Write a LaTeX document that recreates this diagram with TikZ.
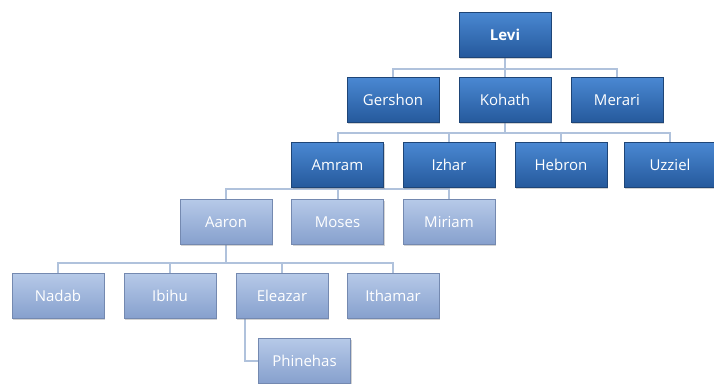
\documentclass[tikz,border=0pt]{standalone}
\usepackage{fontspec}
\setmainfont{Open Sans}
\usetikzlibrary{backgrounds,shadows}
\definecolor{dtop}{HTML}{4A88D2}
\definecolor{dmid}{HTML}{306DBA}
\definecolor{dbot}{HTML}{25599C}
\definecolor{dbrd}{HTML}{1E4577}
\definecolor{ltop}{HTML}{B6C9E8}
\definecolor{lmid}{HTML}{9AB1D9}
\definecolor{lbot}{HTML}{86A0CD}
\definecolor{lbrd}{HTML}{7489B0}
\definecolor{conn}{HTML}{B0C2DC}
\tikzset{
  box/.style={minimum width=92pt, minimum height=45pt, inner sep=0pt, text=white,
    font=\fontsize{15}{17}\selectfont, line width=0.6pt,
    drop shadow={opacity=0.35, shadow xshift=1.2pt, shadow yshift=-1.5pt}},
  dark/.style={box, draw=dbrd, top color=dtop, middle color=dmid, bottom color=dbot},
  light/.style={box, draw=lbrd, top color=ltop, middle color=lmid, bottom color=lbot},
  link/.style={draw=conn, line width=2pt}
}
\begin{document}
\begin{tikzpicture}[x=1pt,y=-1pt]
\useasboundingbox (0,0) rectangle (714,383);
\node[dark, font=\fontsize{15}{17}\selectfont\bfseries] (levi) at (505,34.5) {Levi};
\node[dark] (gershon) at (393,100) {Gershon};
\node[dark] (kohath) at (505,100) {Kohath};
\node[dark] (merari) at (617,100) {Merari};
\node[dark] (amram) at (337.5,165) {Amram};
\node[dark] (izhar) at (449,165) {Izhar};
\node[dark] (hebron) at (561,165) {Hebron};
\node[dark] (uzziel) at (670,165) {Uzziel};
\node[light] (aaron) at (226,222) {Aaron};
\node[light] (moses) at (337.5,222) {Moses};
\node[light] (miriam) at (449,222) {Miriam};
\node[light] (nadab) at (58,296) {Nadab};
\node[light] (ibihu) at (170,296) {Ibihu};
\node[light] (eleazar) at (282,296) {Eleazar};
\node[light] (ithamar) at (393,296) {Ithamar};
\node[light] (phinehas) at (304.5,361) {Phinehas};
\coordinate (bus1) at (0,69);
\coordinate (bus2) at (0,133);
\coordinate (bus3) at (0,189);
\coordinate (bus4) at (0,263);
\coordinate (ph) at (245,0);
\begin{scope}[on background layer]
\draw[link] (levi.south) -- (levi.south |- bus1);
\draw[link] (gershon.north) |- (bus1 -| merari.north) -- (merari.north);
\draw[link] (kohath.north) -- (kohath.north |- bus1);
\draw[link] (kohath.south) -- (kohath.south |- bus2);
\draw[link] (amram.north) |- (bus2 -| uzziel.north) -- (uzziel.north);
\draw[link] (izhar.north) -- (izhar.north |- bus2);
\draw[link] (hebron.north) -- (hebron.north |- bus2);
\draw[link] (amram.south) -- (amram.south |- bus3);
\draw[link] (aaron.north) |- (bus3 -| miriam.north) -- (miriam.north);
\draw[link] (moses.north) -- (moses.north |- bus3);
\draw[link] (aaron.south) -- (aaron.south |- bus4);
\draw[link] (nadab.north) |- (bus4 -| ithamar.north) -- (ithamar.north);
\draw[link] (ibihu.north) -- (ibihu.north |- bus4);
\draw[link] (eleazar.north) -- (eleazar.north |- bus4);
\draw[link] (ph |- eleazar.south) |- (phinehas.west);
\end{scope}
\end{tikzpicture}
\end{document}
